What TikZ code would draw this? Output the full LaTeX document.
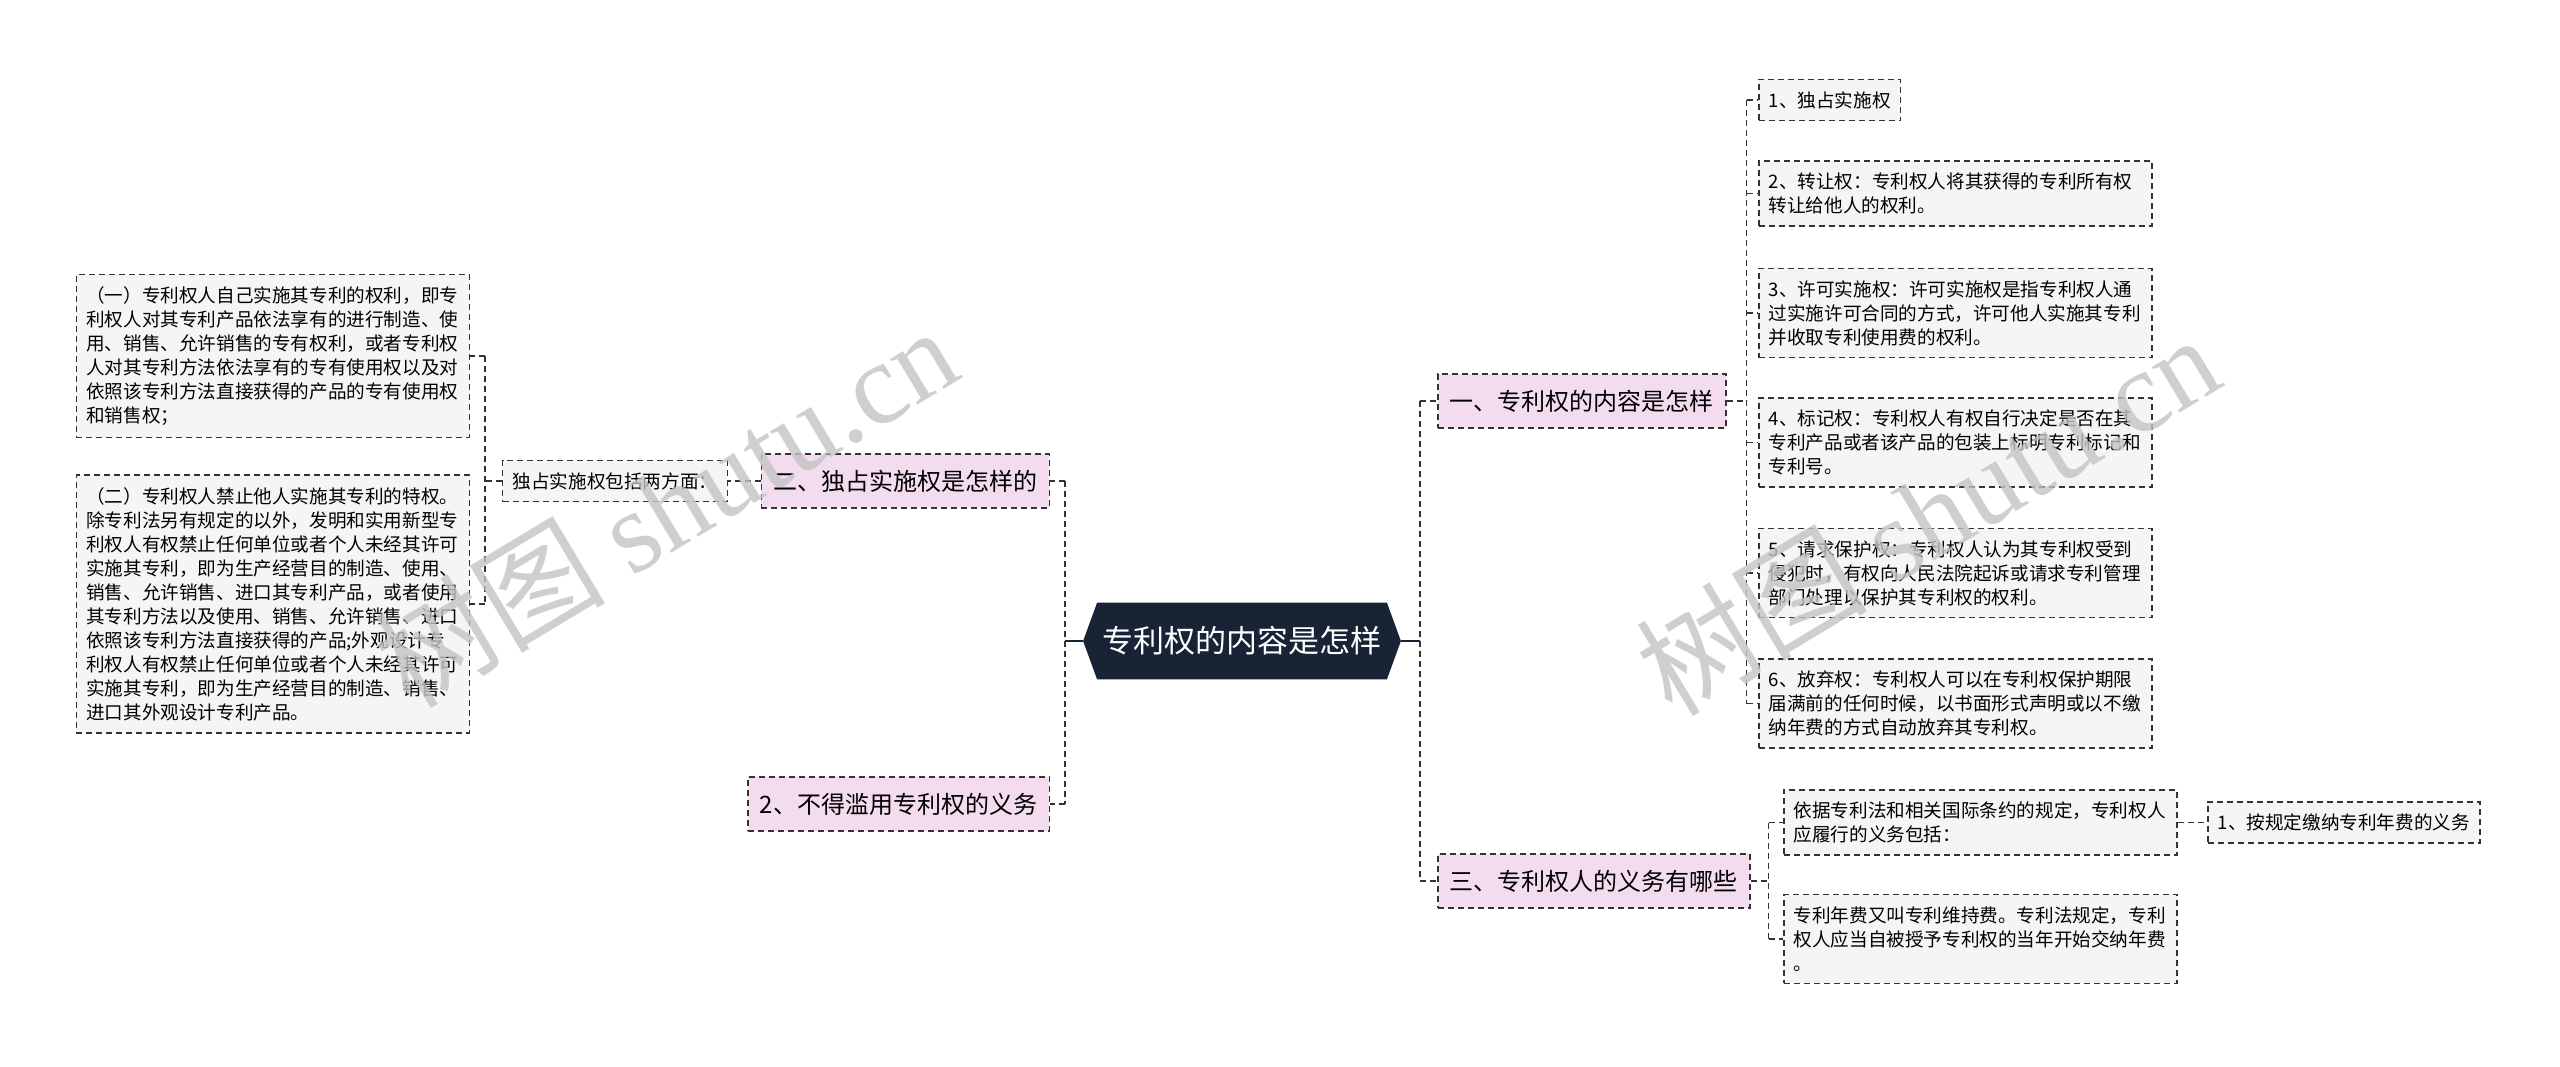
\documentclass[tikz,border=0pt]{standalone}
\usepackage{fontspec}
\setmainfont{Noto Sans CJK SC}
\newfontfamily\cjk{Noto Sans CJK SC}
\newfontfamily\wmserif{Liberation Serif}
\usetikzlibrary{calc,backgrounds}
\definecolor{linec}{HTML}{333333}
\definecolor{leafc}{HTML}{F5F5F5}
\definecolor{pinkc}{HTML}{F4DCEF}
\definecolor{rootc}{HTML}{182436}
\definecolor{wmc}{HTML}{C4C4C4}
\newcommand\leaffont{\cjk\fontsize{9.3pt}{12pt}\selectfont}
\newcommand\topicfont{\cjk\fontsize{12pt}{14pt}\selectfont}
\newcommand\rootfont{\cjk\fontsize{15.5pt}{18pt}\selectfont}
\begin{document}
\begin{tikzpicture}[x=0.5pt,y=-0.5pt,
  leaf/.style={draw=linec, dash pattern=on 3pt off 2pt, line width=0.75pt, fill=leafc, font=\leaffont, align=left, inner xsep=5pt, inner ysep=6pt},
  wide/.style={text width=186.5pt},
  topic/.style={draw=linec, dash pattern=on 3pt off 2pt, line width=0.75pt, fill=pinkc, font=\topicfont, inner xsep=6pt, inner ysep=0pt, minimum height=27pt},
  conn/.style={draw=linec, dash pattern=on 3pt off 2pt, line width=0.75pt},
  rootconn/.style={draw=rootc, line width=0.9pt},
  wm/.style={text=wmc, opacity=0.8, rotate=31, inner sep=0pt}
]
\useasboundingbox (0,0) rectangle (2560,1066);

% root
\node[font=\rootfont, text=white, minimum width=158.5pt, minimum height=38pt, inner sep=0pt] (root) at (1242,641) {专利权的内容是怎样};
\begin{scope}[on background layer]
\fill[white] (0,0) rectangle (2560,1066);
\fill[rootc] (root.west) -- ($(root.north west)+(14,0)$) -- ($(root.north east)+(-14,0)$) -- (root.east) -- ($(root.south east)+(-14,0)$) -- ($(root.south west)+(14,0)$) -- cycle;
\end{scope}

% right topics
\node[topic, anchor=west] (R1) at (1437,401) {一、专利权的内容是怎样};
\node[topic, anchor=west] (R3) at (1437,881) {三、专利权人的义务有哪些};

% left topics
\node[topic, anchor=east] (L1) at (1050,481) {二、独占实施权是怎样的};
\node[topic, anchor=east] (L2) at (1050,804) {2、不得滥用专利权的义务};

% right leaves
\node[leaf, anchor=west] (r1) at (1758,100) {1、独占实施权};
\node[leaf, wide, anchor=west] (r2) at (1758,193.5) {2、转让权：专利权人将其获得的专利所有权\\转让给他人的权利。};
\node[leaf, wide, anchor=west] (r3) at (1758,313) {3、许可实施权：许可实施权是指专利权人通\\过实施许可合同的方式，许可他人实施其专利\\并收取专利使用费的权利。};
\node[leaf, wide, anchor=west] (r4) at (1758,442.5) {4、标记权：专利权人有权自行决定是否在其\\专利产品或者该产品的包装上标明专利标记和\\专利号。};
\node[leaf, wide, anchor=west] (r5) at (1758,573) {5、请求保护权：专利权人认为其专利权受到\\侵犯时，有权向人民法院起诉或请求专利管理\\部门处理以保护其专利权的权利。};
\node[leaf, wide, anchor=west] (r6) at (1758,703.5) {6、放弃权：专利权人可以在专利权保护期限\\届满前的任何时候，以书面形式声明或以不缴\\纳年费的方式自动放弃其专利权。};

\node[leaf, wide, anchor=west] (o1) at (1783,822.5) {依据专利法和相关国际条约的规定，专利权人\\应履行的义务包括：};
\node[leaf, wide, anchor=west] (o2) at (1783,939) {专利年费又叫专利维持费。专利法规定，专利\\权人应当自被授予专利权的当年开始交纳年费\\。};
\node[leaf, anchor=west] (o3) at (2207,822.5) {1、按规定缴纳专利年费的义务};

% left leaves
\node[leaf, anchor=east] (m) at (728,481) {独占实施权包括两方面：};
\node[leaf, wide, anchor=east] (t1) at (470,356) {（一）专利权人自己实施其专利的权利，即专\\利权人对其专利产品依法享有的进行制造、使\\用、销售、允许销售的专有权利，或者专利权\\人对其专利方法依法享有的专有使用权以及对\\依照该专利方法直接获得的产品的专有使用权\\和销售权；};
\node[leaf, wide, anchor=east] (t2) at (470,604) {（二）专利权人禁止他人实施其专利的特权。\\除专利法另有规定的以外，发明和实用新型专\\利权人有权禁止任何单位或者个人未经其许可\\实施其专利，即为生产经营目的制造、使用、\\销售、允许销售、进口其专利产品，或者使用\\其专利方法以及使用、销售、允许销售、进口\\依照该专利方法直接获得的产品;外观设计专\\利权人有权禁止任何单位或者个人未经其许可\\实施其专利，即为生产经营目的制造、销售、\\进口其外观设计专利产品。};

% connectors: root right
\coordinate (kR) at ($(root.east)+(19,0)$);
\draw[rootconn] (root.east) -- (kR);
\draw[conn] (kR |- R1.west) -- (kR |- R3.west);
\draw[conn] (kR |- R1.west) -- (R1.west);
\draw[conn] (kR |- R3.west) -- (R3.west);

% root left
\coordinate (kL) at ($(root.west)+(-18,0)$);
\draw[rootconn] (root.west) -- (kL);
\draw[conn] (kL |- L1.east) -- (kL |- L2.east);
\draw[conn] (kL |- L1.east) -- (L1.east);
\draw[conn] (kL |- L2.east) -- (L2.east);

% R1 children
\coordinate (k1) at ($(R1.east)+(20,0)$);
\draw[conn] (R1.east) -- (k1);
\draw[conn] (k1 |- r1.west) -- (k1 |- r6.west);
\foreach \n in {r1,r2,r3,r4,r5,r6} \draw[conn] (k1 |- \n.west) -- (\n.west);

% R3 children
\coordinate (k3) at ($(R3.east)+(18,0)$);
\draw[conn] (R3.east) -- (k3);
\draw[conn] (k3 |- o1.west) -- (k3 |- o2.west);
\draw[conn] (k3 |- o1.west) -- (o1.west);
\draw[conn] (k3 |- o2.west) -- (o2.west);
\draw[conn] (o1.east) -- (o3.west);

% L1 children
\draw[conn] (L1.west) -- (m.east);
\coordinate (km) at ($(m.west)+(-17,0)$);
\draw[conn] (m.west) -- (km);
\draw[conn] (km |- t1.east) -- (km |- t2.east);
\draw[conn] (km |- t1.east) -- (t1.east);
\draw[conn] (km |- t2.east) -- (t2.east);

% watermarks
\node[wm] (wm1) at (665,506) {\fontsize{58pt}{60pt}\selectfont\cjk 树图 \wmserif shutu.cn};
\node[wm] (wm2) at (1927,514) {\fontsize{58pt}{60pt}\selectfont\cjk 树图 \wmserif shutu.cn};
\end{tikzpicture}
\end{document}
